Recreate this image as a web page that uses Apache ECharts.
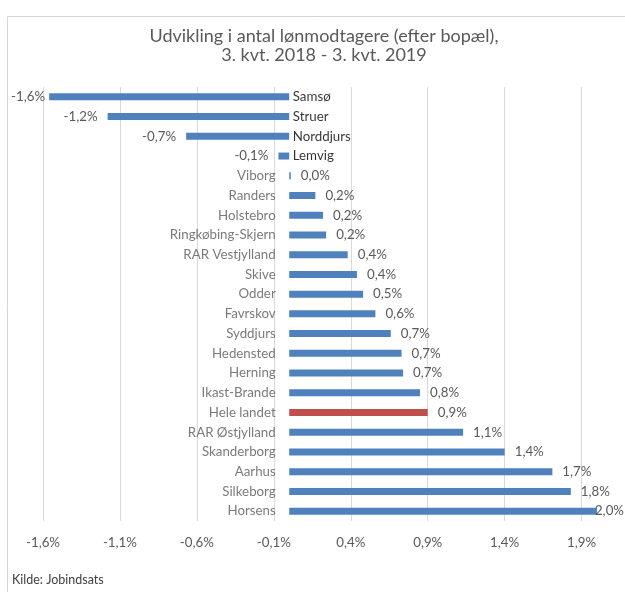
<!DOCTYPE html>
<html>
<head>
<meta charset="utf-8">
<script src="https://cdn.jsdelivr.net/npm/echarts@6/dist/echarts.min.js"></script>
<style>
  html, body { margin: 0; padding: 0; background: #fff; }
  #chart { width: 625px; height: 592px; }
</style>
</head>
<body>
<div id="chart"></div>
<script>
// Udvikling i antal lønmodtagere, pct.
var kommuner = ['Samsø', 'Struer', 'Norddjurs', 'Lemvig', 'Viborg', 'Randers', 'Holstebro',
  'Ringkøbing-Skjern', 'RAR Vestjylland', 'Skive', 'Odder', 'Favrskov', 'Syddjurs',
  'Hedensted', 'Herning', 'Ikast-Brande', 'Hele landet', 'RAR Østjylland', 'Skanderborg',
  'Aarhus', 'Silkeborg', 'Horsens']
var udvikling = [-1.56, -1.18, -0.67, -0.07, 0.01, 0.17, 0.22, 0.24, 0.38, 0.44, 0.48, 0.56,
  0.66, 0.73, 0.74, 0.85, 0.90, 1.13, 1.40, 1.71, 1.83, 2.0]
var fremhaevet = 'Hele landet'

var blaa = '#4f81bd'
var roed = '#c0504d'
var graa = '#595959'
var font = 'Lato'
var fs = 13.3

var pct = function (v) {
  return v.toFixed(1).replace('.', ',') + '%'
}

var barData = udvikling.map(function (v, i) {
  return {
    value: v,
    itemStyle: { color: kommuner[i] === fremhaevet ? roed : blaa },
    label: { position: v < 0 ? 'left' : 'right' }
  }
})

// kategorinavne ved nul-aksen: til venstre for positive, til højre for negative
var navne = kommuner.map(function (k, i) {
  var neg = udvikling[i] < 0
  return {
    value: [0, k],
    label: { position: neg ? 'right' : 'left', distance: neg ? 3 : 13, color: neg ? '#000' : graa }
  }
})

var myChart = echarts.init(document.getElementById('chart'))
var option = {
  backgroundColor: '#fff',
  animation: false,
  textStyle: { fontFamily: font },
  title: {
    text: 'Udvikling i antal lønmodtagere (efter bopæl),\n3. kvt. 2018 - 3. kvt. 2019',
    left: 319,
    textAlign: 'center',
    top: 22,
    textStyle: { fontFamily: font, fontSize: 18, fontWeight: 'normal', color: graa, lineHeight: 19 }
  },
  graphic: [
    { type: 'line', shape: { x1: 7.5, y1: 16.5, x2: 625, y2: 16.5 }, style: { stroke: '#d4d4d4', lineWidth: 1 } },
    { type: 'line', shape: { x1: 7.5, y1: 16.5, x2: 7.5, y2: 592 }, style: { stroke: '#d4d4d4', lineWidth: 1 } },
    {
      type: 'text', left: 12, top: 573,
      style: { text: 'Kilde: Jobindsats', fontFamily: font, fontSize: 12.5, fill: '#404040' }
    }
  ],
  grid: { left: 43, right: 28, top: 87, bottom: 71, containLabel: false, outerBoundsMode: 'none' },
  xAxis: {
    type: 'value',
    min: -1.6,
    max: 2.0,
    interval: 0.5,
    axisLine: { show: false },
    axisTick: { show: false },
    splitLine: { show: true, showMaxLine: false, lineStyle: { color: '#d9d9d9' } },
    axisLabel: {
      showMaxLabel: false,
      margin: 15,
      color: graa,
      fontFamily: font,
      fontSize: fs,
      formatter: pct
    }
  },
  yAxis: {
    type: 'category',
    inverse: true,
    data: kommuner,
    axisLine: { show: false },
    axisTick: { show: false },
    axisLabel: { show: false }
  },
  series: [
    {
      type: 'bar',
      data: barData,
      barWidth: 7,
      label: {
        show: true,
        distance: 10,
        offset: [0, 2],
        color: graa,
        fontFamily: font,
        fontSize: fs,
        formatter: function (p) { return pct(p.value) }
      },
      labelLayout: function (p) {
        var r = p.labelRect
        if (r.x + r.width > 624) return { dx: 624 - (r.x + r.width) }
        if (r.x < 11) return { dx: 11 - r.x }
        return {}
      }
    },
    {
      type: 'scatter',
      data: navne,
      symbolSize: 1,
      silent: true,
      itemStyle: { color: 'rgba(0,0,0,0)' },
      label: {
        show: true,
        fontFamily: font,
        fontSize: fs,
        formatter: function (p) { return p.value[1] }
      }
    }
  ]
}
myChart.setOption(option)
</script>
</body>
</html>
